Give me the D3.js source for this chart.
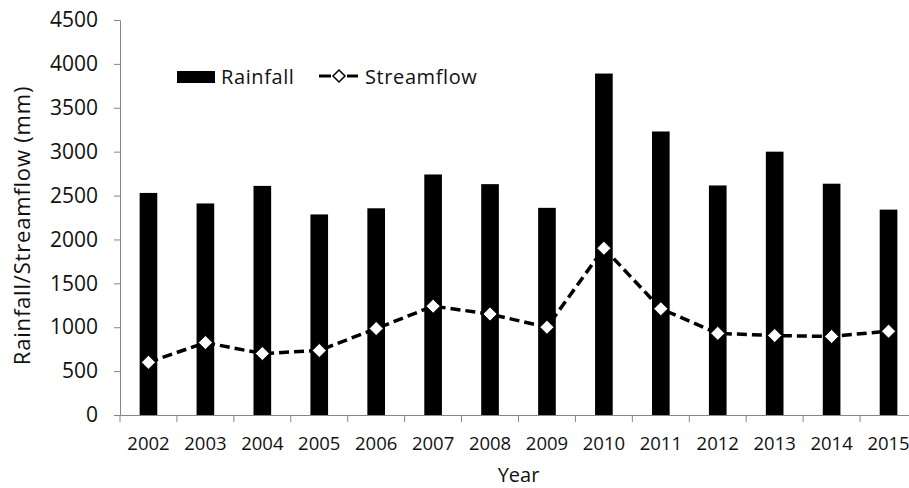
<!DOCTYPE html>
<html>
<head>
<meta charset="utf-8">
<script src="https://cdn.jsdelivr.net/npm/d3@7"></script>
<style>
  body { margin: 0; background: #fff; }
  svg { display: block; font-family: "Open Sans", sans-serif; }
</style>
</head>
<body>
<svg width="909" height="488"></svg>
<script>
// data
var years = ["2002", "2003", "2004", "2005", "2006", "2007", "2008",
             "2009", "2010", "2011", "2012", "2013", "2014", "2015"];
var rainfall = [2530, 2410, 2610, 2285, 2355, 2740, 2630,
                2360, 3890, 3230, 2615, 3000, 2635, 2340];
var streamflow = [600, 825, 700, 735, 985, 1240, 1150,
                  1000, 1900, 1210, 930, 905, 895, 955];
var yTicks = d3.range(0, 4501, 500);

var svg = d3.select("svg");
var plotLeft = 120, plotRight = 917, plotTop = 20, plotBottom = 415;

var x = d3.scaleBand()
  .domain(years)
  .range([plotLeft, plotRight])
  .paddingInner(0.69)
  .paddingOuter(0.345);

var y = d3.scaleLinear()
  .domain([0, 4500])
  .range([plotBottom, plotTop]);

var axisColor = "#868686";

// bars
svg.append("g").selectAll("rect")
  .data(rainfall)
  .enter().append("rect")
  .attr("x", function(d, i) { return x(years[i]); })
  .attr("y", function(d) { return y(d); })
  .attr("width", x.bandwidth())
  .attr("height", function(d) { return y(0) - y(d); })
  .attr("fill", "#000");

// y axis
var yAxis = svg.append("g")
  .attr("transform", "translate(" + plotLeft + ",0)")
  .call(d3.axisLeft(y).tickValues(yTicks).tickSize(6).tickPadding(16).tickFormat(d3.format("d")))
  .attr("font-family", null);
yAxis.select(".domain").attr("stroke", axisColor);
yAxis.selectAll(".tick line").attr("stroke", axisColor);
yAxis.selectAll("text").attr("font-size", 21).attr("fill", "#111");

// x axis: labels at centers, ticks between categories (Excel style)
var xAxis = svg.append("g")
  .attr("transform", "translate(0," + plotBottom + ")")
  .call(d3.axisBottom(x).tickSize(0).tickPadding(22).tickSizeOuter(0))
  .attr("font-family", null);
xAxis.select(".domain").attr("stroke", axisColor);
xAxis.selectAll("text").attr("font-size", 18.5).attr("fill", "#111");

var step = x.step();
svg.append("g").selectAll("line")
  .data(d3.range(years.length + 1))
  .enter().append("line")
  .attr("x1", function(i) { return plotLeft + i * step; })
  .attr("x2", function(i) { return plotLeft + i * step; })
  .attr("y1", plotBottom)
  .attr("y2", plotBottom + 7)
  .attr("stroke", axisColor);

// streamflow line
var cx = function(d, i) { return x(years[i]) + x.bandwidth() / 2; };
var line = d3.line()
  .x(cx)
  .y(function(d) { return y(d); });

svg.append("path")
  .datum(streamflow)
  .attr("d", line)
  .attr("fill", "none")
  .attr("stroke", "#000")
  .attr("stroke-width", 3.5)
  .attr("stroke-dasharray", "10,5");

var diamond = "M0,-7L7,0L0,7L-7,0Z";
svg.append("g").selectAll("path")
  .data(streamflow)
  .enter().append("path")
  .attr("d", diamond)
  .attr("transform", function(d, i) { return "translate(" + cx(d, i) + "," + y(d) + ")"; })
  .attr("fill", "#fff")
  .attr("stroke", "#000")
  .attr("stroke-width", 0.8);

// axis titles
svg.append("text")
  .attr("x", (plotLeft + plotRight) / 2)
  .attr("y", 482)
  .attr("text-anchor", "middle")
  .attr("font-size", 20)
  .attr("fill", "#111")
  .text("Year");

svg.append("text")
  .attr("transform", "translate(30," + ((plotTop + plotBottom) / 2 + 8) + ") rotate(-90)")
  .attr("text-anchor", "middle")
  .attr("font-size", 22)
  .attr("letter-spacing", 0.8)
  .attr("fill", "#111")
  .text("Rainfall/Streamflow (mm)");

// legend
var legend = svg.append("g");
legend.append("rect")
  .attr("x", 177).attr("y", 71).attr("width", 38).attr("height", 12)
  .attr("fill", "#000");
legend.append("text")
  .attr("x", 221).attr("y", 84)
  .attr("font-size", 20).attr("letter-spacing", 0.6).attr("fill", "#111")
  .text("Rainfall");
legend.append("line")
  .attr("x1", 319).attr("x2", 331).attr("y1", 76).attr("y2", 76)
  .attr("stroke", "#000").attr("stroke-width", 3);
legend.append("line")
  .attr("x1", 347).attr("x2", 358).attr("y1", 76).attr("y2", 76)
  .attr("stroke", "#000").attr("stroke-width", 3);
legend.append("path")
  .attr("d", "M0,-6L6,0L0,6L-6,0Z")
  .attr("transform", "translate(339,76)")
  .attr("fill", "#fff")
  .attr("stroke", "#000")
  .attr("stroke-width", 1.5);
legend.append("text")
  .attr("x", 365).attr("y", 84)
  .attr("font-size", 20).attr("letter-spacing", 0.6).attr("fill", "#111")
  .text("Streamflow");
</script>
</body>
</html>
